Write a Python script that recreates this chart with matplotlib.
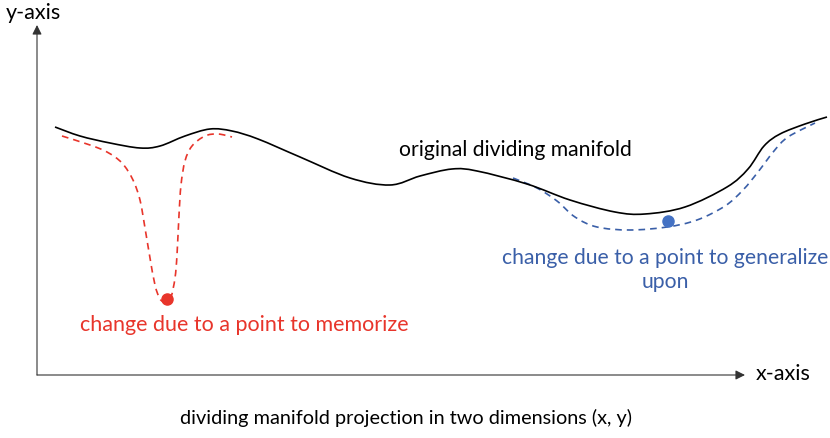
import matplotlib.pyplot as plt
from matplotlib.path import Path
from matplotlib.patches import PathPatch

# Curva original (unidades del grafico, origen en la esquina de los ejes)
base_x = [18, 43, 73, 103, 123, 148, 173, 195, 221, 263, 313, 353, 383, 415, 440, 490, 533,
          578, 608, 648, 690, 711, 727, 743, 768, 790]
base_y = [248, 239, 232, 227, 229, 239, 246, 244, 236, 218, 197, 190, 199, 206, 204, 191, 175,
          163, 161, 168, 188, 206, 229, 241, 251, 258]

# Cambio por un punto memorizado
memo_x = [25, 53, 70, 85, 96, 103, 108, 113, 118, 123, 129, 134, 138, 140, 142, 144, 148, 155,
          168, 181, 195]
memo_y = [239, 230, 223, 212, 195, 175, 147, 117, 90, 76, 73, 78, 97, 120, 160, 190, 214, 229,
          239, 241, 238]
memo_pt = (130, 76)

# Cambio por un punto que generaliza
gen_x = [476, 500, 520, 538, 560, 593, 630, 660, 688, 706, 721, 737, 751, 778]
gen_y = [197, 187, 174, 158, 148, 145, 148, 155, 169, 185, 203, 224, 238, 252]
gen_pt = (631, 154)

red = '#E8352B'
blue = '#3A5FA8'
dot_blue = '#4472C4'
font = ['Lato', 'DejaVu Sans']


# Trazo suave que pasa por los puntos leidos (bezier tipo Catmull-Rom)
def smooth_path(xs, ys):
    pts = list(zip(xs, ys))
    verts = [pts[0]]
    codes = [Path.MOVETO]
    for i in range(len(pts) - 1):
        p0 = pts[max(i - 1, 0)]
        p1 = pts[i]
        p2 = pts[i + 1]
        p3 = pts[min(i + 2, len(pts) - 1)]
        c1 = (p1[0] + (p2[0] - p0[0]) / 6, p1[1] + (p2[1] - p0[1]) / 6)
        c2 = (p2[0] - (p3[0] - p1[0]) / 6, p2[1] - (p3[1] - p1[1]) / 6)
        verts += [c1, c2, p2]
        codes += [Path.CURVE4] * 3
    return Path(verts, codes)


fig = plt.figure(figsize=(8.3, 4.38), dpi=100)
ax = fig.add_axes([0, 0, 1, 1])
ax.set_xlim(-37, 793)
ax.set_ylim(-63, 375)
ax.axis('off')

# Ejes con flechas
arrow = dict(arrowstyle='-|>', color='#333333', lw=0.8, mutation_scale=14, shrinkA=0, shrinkB=0)
ax.annotate('', xy=(708, 0), xytext=(0, 0), arrowprops=arrow)
ax.annotate('', xy=(0, 350), xytext=(0, 0), arrowprops=arrow)
ax.text(-4, 362, 'y-axis', ha='center', va='center', fontsize=15.5, family=font)
ax.text(719, 1, 'x-axis', ha='left', va='center', fontsize=15.5, family=font)

# Curvas
ax.add_patch(PathPatch(smooth_path(base_x, base_y), fill=False, edgecolor='black', lw=1.2, zorder=3))
ax.add_patch(PathPatch(smooth_path(memo_x, memo_y), fill=False, edgecolor=red, lw=1.2,
                       ls=(0, (4, 3)), zorder=2))
ax.add_patch(PathPatch(smooth_path(gen_x, gen_y), fill=False, edgecolor=blue, lw=1.2,
                       ls=(0, (4, 3)), zorder=2))
ax.plot(*memo_pt, 'o', color=red, ms=8, zorder=4)
ax.plot(*gen_pt, 'o', color=dot_blue, ms=8, zorder=4)

# Textos
ax.text(478, 225, 'original dividing manifold', ha='center', va='center', fontsize=15.2, family=font)
ax.text(207, 50, 'change due to a point to memorize', ha='center', va='center',
        fontsize=15.5, family=font, color=red)
ax.text(628, 105, 'change due to a point to generalize\nupon', ha='center', va='center',
        fontsize=15.2, family=font, color=blue, linespacing=1.3)
ax.text(369, -43, 'dividing manifold projection in two dimensions (x, y)', ha='center',
        va='center', fontsize=14.3, family=font)

fig.savefig('out.png', dpi=100)
